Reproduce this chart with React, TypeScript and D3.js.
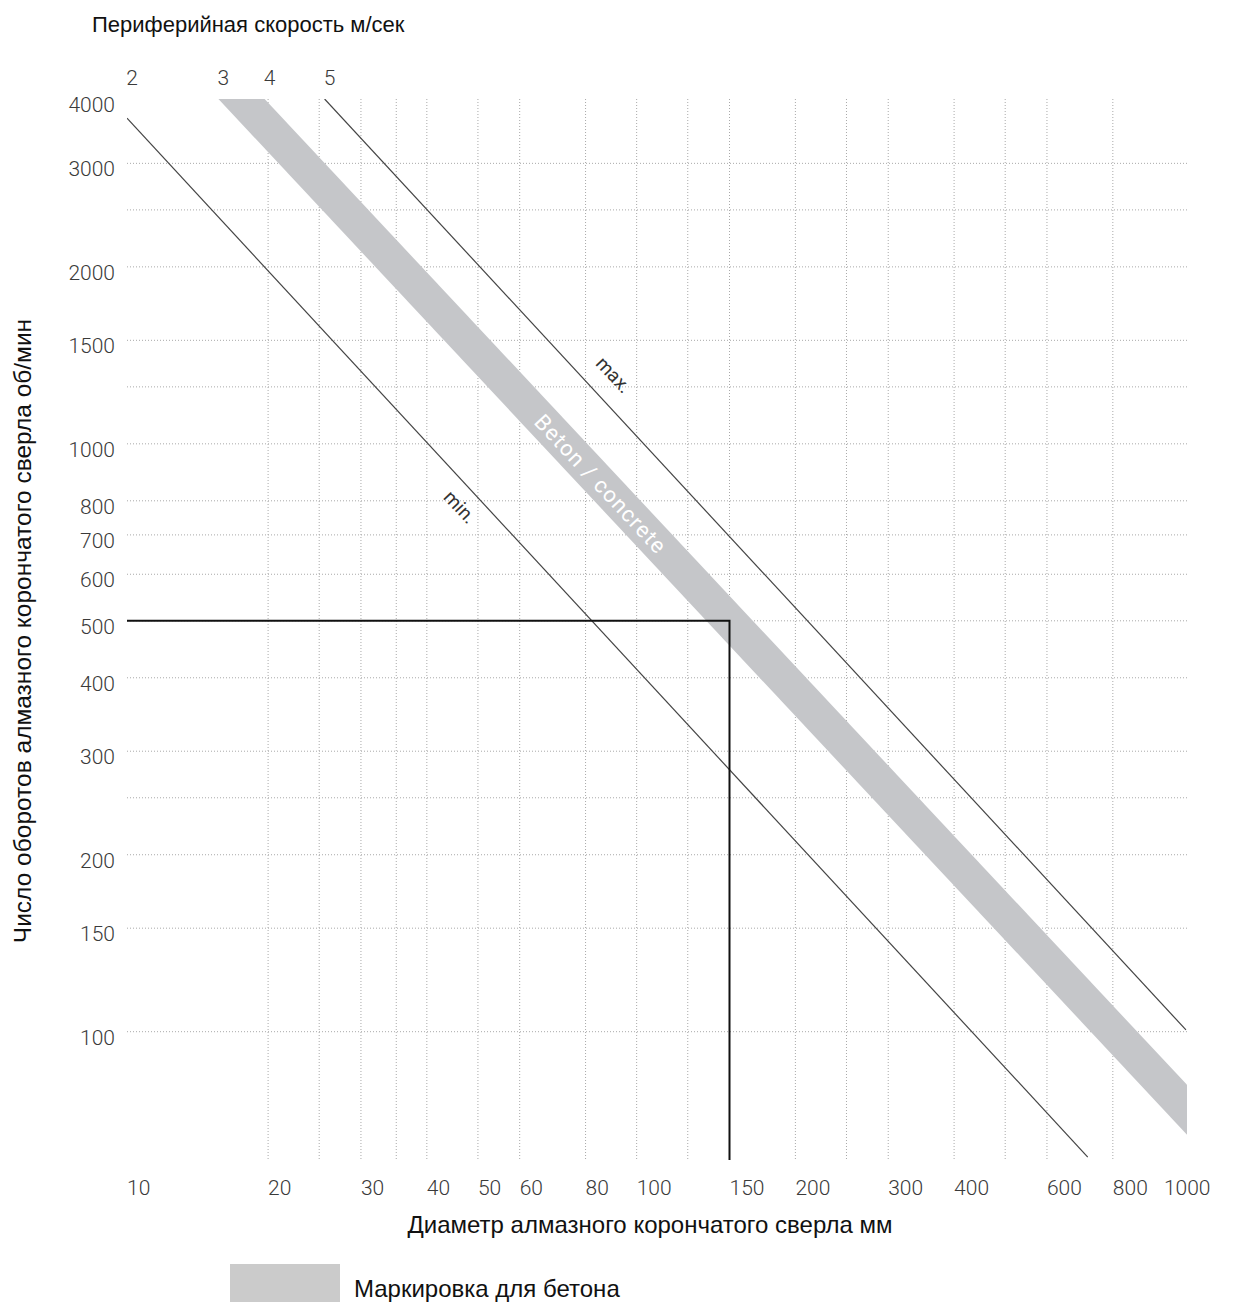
import React from 'react';
import * as d3 from 'd3';

// axis extents (mm, rpm)
const diameterDomain = [10.8, 1106];
const rpmDomain = [60.5, 3860];

const diameterTicks = [10, 20, 30, 40, 50, 60, 80, 100, 150, 200, 300, 400, 600, 800, 1000];
const diameterGrid = [20, 25, 30, 35, 40, 50, 60, 80, 100, 125, 150, 200, 250, 300, 400, 500, 600, 800];
const rpmTicks = [4000, 3000, 2000, 1500, 1000, 800, 700, 600, 500, 400, 300, 200, 150, 100];
const rpmGrid = [3000, 2500, 2000, 1500, 1250, 1000, 800, 700, 600, 500, 400, 300, 250, 200, 150, 100];

// speed lines: [diameter mm, rpm] at both ends
const minLine: [number, number][] = [[10.8, 3580], [717, 61.2]];
const bandLow: [number, number][] = [[16.1, 3860], [1106, 66.8]];
const bandHigh: [number, number][] = [[19.7, 3860], [1106, 81.2]];
const maxLine: [number, number][] = [[25.6, 3860], [1101, 100.7]];
const speedLabels = ['2', '3', '4', '5'];

// worked example: 150 mm drill at 500 rpm
const exampleDiameter = 150;
const exampleRpm = 500;

// label anchors [diameter, rpm]
const betonAt: [number, number] = [85, 850];
const maxAt: [number, number] = [90, 1305];
const minAt: [number, number] = [46, 778];

const W = 1234;
const H = 1306;
const frame = { left: 127, right: 1187, top: 99, bottom: 1160 };

const tickFont = 'Roboto, "DejaVu Sans", sans-serif';
const titleFont = '"Liberation Sans", Arial, sans-serif';

export default function App() {
  const x = d3.scaleLog().domain(diameterDomain).range([frame.left, frame.right]);
  const y = d3.scaleLog().domain(rpmDomain).range([frame.bottom, frame.top]);

  const line = d3.line<[number, number]>().x(p => x(p[0])).y(p => y(p[1]));
  const band = line([bandLow[0], bandHigh[0], bandHigh[1], bandLow[1]]) + 'Z';

  const angle = Math.atan2(
    y(bandLow[1][1]) - y(bandLow[0][1]),
    x(bandLow[1][0]) - x(bandLow[0][0])
  ) * 180 / Math.PI;

  const lineStarts = [minLine[0], bandLow[0], bandHigh[0], maxLine[0]];

  return (
    <svg width={W} height={H} style={{ position: 'absolute', left: 0, top: 0, background: '#fff' }}>
      <defs>
        <clipPath id="plot">
          <rect x={frame.left} y={frame.top} width={frame.right - frame.left} height={frame.bottom - frame.top} />
        </clipPath>
      </defs>

      {/* grid */}
      <g stroke="#a9a9a9" strokeWidth={1} strokeDasharray="1,2">
        {rpmGrid.map(v => (
          <line key={'h' + v} x1={frame.left} x2={frame.right} y1={y(v)} y2={y(v)} />
        ))}
        {diameterGrid.map(v => (
          <line key={'v' + v} x1={x(v)} x2={x(v)} y1={frame.top} y2={frame.bottom} />
        ))}
      </g>

      <g clipPath="url(#plot)">
        <path d={band} fill="#c5c6c9" />
        <path d={line(minLine) || ''} fill="none" stroke="#444" strokeWidth={1.2} />
        <path d={line(maxLine) || ''} fill="none" stroke="#444" strokeWidth={1.2} />

        {/* example reading */}
        <path
          d={line([[diameterDomain[0], exampleRpm], [exampleDiameter, exampleRpm], [exampleDiameter, rpmDomain[0]]]) || ''}
          fill="none"
          stroke="#111"
          strokeWidth={2}
        />
      </g>

      {/* in-plot labels */}
      <text
        transform={`translate(${x(betonAt[0])},${y(betonAt[1])}) rotate(${angle})`}
        textAnchor="middle"
        dominantBaseline="middle"
        fontFamily={tickFont}
        fontSize={22}
        letterSpacing={1.2}
        fill="#fff"
      >
        Beton / concrete
      </text>
      <text
        transform={`translate(${x(maxAt[0])},${y(maxAt[1])}) rotate(${angle})`}
        textAnchor="middle"
        dominantBaseline="middle"
        fontFamily={tickFont}
        fontSize={19}
        fill="#333"
      >
        max.
      </text>
      <text
        transform={`translate(${x(minAt[0])},${y(minAt[1])}) rotate(${angle})`}
        textAnchor="middle"
        dominantBaseline="middle"
        fontFamily={tickFont}
        fontSize={19}
        fill="#333"
      >
        min.
      </text>

      {/* peripheral speed labels on top */}
      <g fontFamily={tickFont} fontSize={21} fontWeight={300} fill="#3a3a3a" textAnchor="middle">
        {speedLabels.map((s, i) => (
          <text key={s} x={x(lineStarts[i][0]) + 5} y={85}>{s}</text>
        ))}
      </g>

      {/* y ticks */}
      <g fontFamily={tickFont} fontSize={21} fontWeight={300} fill="#3a3a3a" textAnchor="end">
        {rpmTicks.map(v => (
          <text key={v} x={115} y={Math.max(y(v), frame.top) + 13}>{v}</text>
        ))}
      </g>

      {/* x ticks */}
      <g fontFamily={tickFont} fontSize={21} fontWeight={300} fill="#3a3a3a" textAnchor="start">
        {diameterTicks.map(v => (
          <text key={v} x={Math.max(x(v), frame.left)} y={1195}>{v}</text>
        ))}
      </g>

      {/* titles */}
      <g fontFamily={titleFont} fill="#111">
        <text x={92} y={32} fontSize={22}>Периферийная скорость м/сек</text>
        <text x={650} y={1233} fontSize={24} textAnchor="middle">Диаметр алмазного корончатого сверла мм</text>
        <text transform="translate(31,631) rotate(-90)" fontSize={24.5} textAnchor="middle">
          Число оборотов алмазного корончатого сверла об/мин
        </text>
      </g>

      {/* legend */}
      <rect x={230} y={1264} width={110} height={38} fill="#cbcbcb" />
      <text x={354} y={1297} fontFamily={titleFont} fontSize={24} fill="#111">Маркировка для бетона</text>
    </svg>
  );
}
